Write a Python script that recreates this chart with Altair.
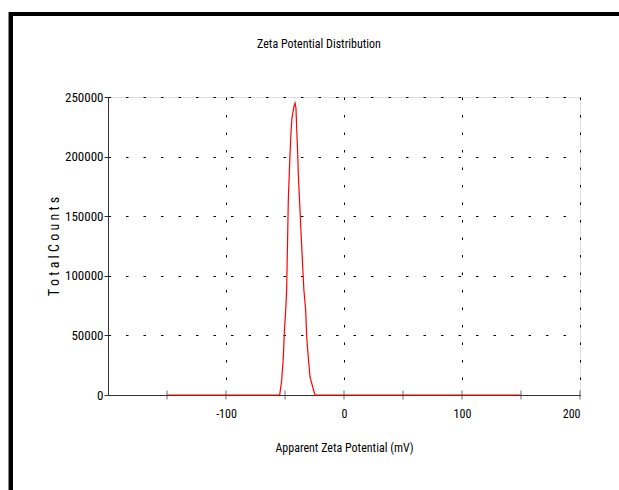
import altair as alt
import pandas as pd

# ---- data ----
potential_mv = [-150, -54.5, -52.8, -51.4, -50.6, -49.4, -48.6, -47.7, -47.2, -45.8,
                -44.9, -44.1, -43.2, -42.1, -41.5, -40.7, -40.1, -39.2, -38.7, -37.9,
                -36.4, -35.3, -34.0, -32.5, -31.6, -30.3, -28.8, -26.5, -24.6, 150]
total_counts = [0, 0, 12600, 31900, 52000, 71300, 88100, 136000, 163600, 201000,
                220700, 232400, 237400, 243300, 245000, 240800, 224000, 201400, 184600, 167800,
                135900, 113300, 88100, 71300, 48700, 31900, 15100, 6700, 0, 0]

x_tick_values = [-200, -150, -100, -50, 0, 50, 100, 150, 200]
y_tick_values = [0, 25000, 50000, 75000, 100000, 125000, 150000, 175000, 200000, 225000, 250000]
chart_title = ["Zeta Potential Distribution"]

FONT = "Liberation Sans Narrow, Arial Narrow, Noto Sans Condensed, Roboto Condensed, Liberation Sans, sans-serif"
AXIS_COLOR = "#333333"

xscale = alt.Scale(domain=[-200, 200], nice=False, zero=False)
yscale = alt.Scale(domain=[0, 250000], nice=False)

curve_df = pd.DataFrame({"x": potential_mv, "y": total_counts})
xtick_df = pd.DataFrame({"x": x_tick_values[1:], "y": [0] * (len(x_tick_values) - 1)})
one_df = pd.DataFrame({"k": [0]})
title_df = pd.DataFrame({"t": chart_title})

dash = [2.5, 15]

curve = alt.Chart(curve_df).mark_line(color="#ff0000", strokeWidth=1.2).encode(
    x=alt.X("x:Q", scale=xscale,
            axis=alt.Axis(values=x_tick_values,
                          labelExpr="(datum.value % 100 == 0 && datum.value > -200) ? toString(datum.value) : ''",
                          ticks=False, grid=True, gridColor="black", gridDash=dash, gridWidth=1,
                          gridOpacity={"condition": {"test": "datum.value % 100 == 0 && datum.value > -200", "value": 1}, "value": 0},
                          domainColor=AXIS_COLOR, domainWidth=1,
                          labelFont=FONT, labelFontSize=12, labelColor="black", labelPadding=13,
                          title="Apparent Zeta Potential (mV)", titleFont=FONT, titleFontSize=12,
                          titleFontWeight="normal", titleColor="black", titlePadding=23)),
    y=alt.Y("y:Q", scale=yscale,
            axis=alt.Axis(values=y_tick_values,
                          labelExpr="datum.value % 50000 == 0 ? toString(datum.value) : ''",
                          grid=True, gridColor="black", gridDash=dash, gridWidth=1,
                          gridOpacity={"condition": {"test": "datum.value % 50000 == 0 && datum.value > 0", "value": 1}, "value": 0},
                          tickSize=4, tickColor=AXIS_COLOR,
                          domainColor=AXIS_COLOR, domainWidth=1,
                          labelFont=FONT, labelFontSize=13, labelColor="black", labelPadding=1,
                          title="T o t a l  C o u n t s", titleFont=FONT, titleFontSize=14,
                          titleFontWeight="normal", titleColor="black", titlePadding=3)),
)

xticks = alt.Chart(xtick_df).mark_tick(orient="vertical", size=9, thickness=1, color=AXIS_COLOR).encode(
    x=alt.X("x:Q", scale=xscale),
    y=alt.Y("y:Q", scale=yscale),
)

title_text = alt.Chart(title_df).mark_text(font=FONT, fontSize=12, color="black",
                                           align="center", baseline="middle").encode(
    text="t:N", x=alt.value(211), y=alt.value(-53))

frame_top = alt.Chart(one_df).mark_rule(color="black", strokeWidth=4).encode(
    x=alt.value(-100), x2=alt.value(520), y=alt.value(-83))
frame_left = alt.Chart(one_df).mark_rule(color="black", strokeWidth=4).encode(
    x=alt.value(-97), y=alt.value(-85), y2=alt.value(400))
frame_gray = alt.Chart(one_df).mark_rule(color="#888888", strokeWidth=1).encode(
    x=alt.value(-99.5), y=alt.value(-85), y2=alt.value(400))

chart = alt.layer(curve, xticks, title_text, frame_top, frame_gray, frame_left).properties(
    width=472,
    height=298,
    autosize=alt.AutoSizeParams(type="none"),
    padding={"left": 108, "top": 97, "right": 39, "bottom": 95},
).configure_view(stroke=None).configure(background="white")

chart.save("out.html", embed_options={"renderer": "svg", "actions": False})
